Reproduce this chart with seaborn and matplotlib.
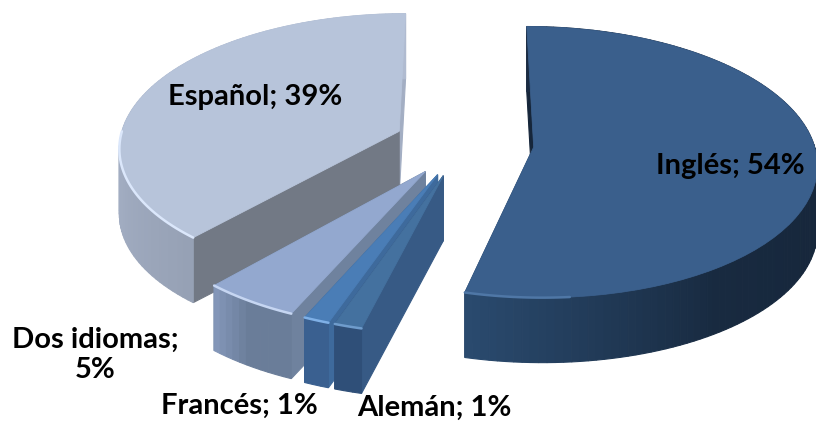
import numpy as np
import matplotlib
matplotlib.use('Agg')
import matplotlib.pyplot as plt
import matplotlib.transforms as mtransforms
from matplotlib.patches import Polygon
import seaborn as sns

# Values (labels are rounded, the slices show a bit more)
idiomas = ['Inglés', 'Alemán', 'Francés', 'Dos idiomas', 'Español']
porcentajes = [54.0, 1.4, 1.3, 4.9, 38.5]

# Colours per slice: top, cut faces, rim (rim goes along the angle)
top_colors = ['#3a5f8c', '#44719f', '#4a7db6', '#93a8cf', '#b7c4da']
cut_start = ['#2b4769', '#375a85', '#3e6a9c', '#6f829e', '#a3aec3']
cut_end = ['#16263a', '#375a85', '#3e6a9c', '#6f829e', '#727985']
rim_colors = [
    ['#2a4a6e', '#182a40', '#16263a', '#1a2b42', '#1a2b42'],
    ['#2f4f78', '#2f4f78'],
    ['#3a6090', '#3a6090'],
    ['#8396b8', '#6a7d99', '#6a7d99'],
    ['#b0bbd0', '#b0bbd0', '#a6b1c6', '#96a1b5'],
]
glow_colors = ['#4f77a6', '#6f9ccc', '#7fb0e6', '#c6d6f2', '#dbe7fb']

k = 0.11
depth = 65 / 133  # same height all round, in screen units


class Perspective(mtransforms.Transform):
    # tilts the flat pie plane, the front gets bigger than the back
    input_dims = 2
    output_dims = 2
    is_separable = False

    def transform_non_affine(self, values):
        values = np.asarray(values, dtype=float)
        w = 1 + k * values[:, 1]
        return np.column_stack([values[:, 0] / w, values[:, 1] / w])


sns.set_theme(style='white')
plt.rcParams['font.family'] = ['Lato', 'DejaVu Sans']

fig, ax = plt.subplots(figsize=(8.16, 4.21), dpi=100)
ax.set_position([0, 0, 1, 1])

wedges, _ = ax.pie(porcentajes, explode=[0.25] * len(porcentajes), startangle=90,
                   counterclock=False, colors=top_colors, radius=1.0)
ax.set_aspect('auto')
ax.set_xlim((0 - 464) / 280, (816 - 464) / 280)
ax.set_ylim((143 - 421) / 133, (143 - 0) / 133)
ax.set_axis_off()

tilt = Perspective()
persp = tilt + ax.transData


def edge_point(w, theta):
    t = np.radians(theta)
    return np.array([w.center[0] + w.r * np.cos(t), w.center[1] + w.r * np.sin(t)])


def add_side(a, b, color, z):
    # quad between two edge points and the same points pushed down on screen
    pa, pb = tilt.transform(np.array([a, b]))
    down = np.array([0, -depth])
    ax.add_patch(Polygon([pa, pb, pb + down, pa + down], closed=True, facecolor=color,
                         edgecolor=color, lw=0.8, zorder=z))


z = 2
# back to front
for i in [4, 3, 2, 1, 0]:
    w = wedges[i]
    apex = np.array(w.center)

    # the two flat cut faces
    add_side(apex, edge_point(w, w.theta1), cut_start[i], z)
    add_side(apex, edge_point(w, w.theta2), cut_end[i], z)
    z += 1

    # rim, cut into small pieces to get the shading
    n = max(int((w.theta2 - w.theta1) / 1.5), 2)
    thetas = np.linspace(w.theta1, w.theta2, n + 1)
    pal = sns.blend_palette(rim_colors[i], n)
    for j in range(n):
        add_side(edge_point(w, thetas[j]), edge_point(w, thetas[j + 1]), pal[j], z)
    z += 1

    w.set_transform(persp)
    w.set_edgecolor(top_colors[i])
    w.set_linewidth(0.6)
    w.set_zorder(z)
    z += 1

    # light bevel on the front edge (pie angles run negative here)
    lo = max(w.theta1, -180)
    hi = min(w.theta2, -85)
    arc = np.array([edge_point(w, th) for th in np.linspace(lo, hi, 40)])
    ax.plot(arc[:, 0], arc[:, 1], color=glow_colors[i], lw=1.8, transform=persp,
            zorder=z, solid_capstyle='round')
    z += 1

# labels
lab = dict(fontsize=21, fontweight='bold', color='black', ha='center', va='center')
fig.text(730 / 816, 1 - 166 / 421, f'{idiomas[0]}; {porcentajes[0]:.0f}%', **lab)
fig.text(255 / 816, 1 - 97 / 421, f'{idiomas[4]}; {porcentajes[4] + 0.01:.0f}%', **lab)
fig.text(95 / 816, 1 - 355 / 421, f'{idiomas[3]};\n{porcentajes[3]:.0f}%', linespacing=1.2, **lab)
fig.text(239 / 816, 1 - 406 / 421, f'{idiomas[2]}; {porcentajes[2]:.0f}%', **lab)
fig.text(434 / 816, 1 - 408 / 421, f'{idiomas[1]}; {porcentajes[1]:.0f}%', **lab)

fig.savefig('out.png', dpi=100)
